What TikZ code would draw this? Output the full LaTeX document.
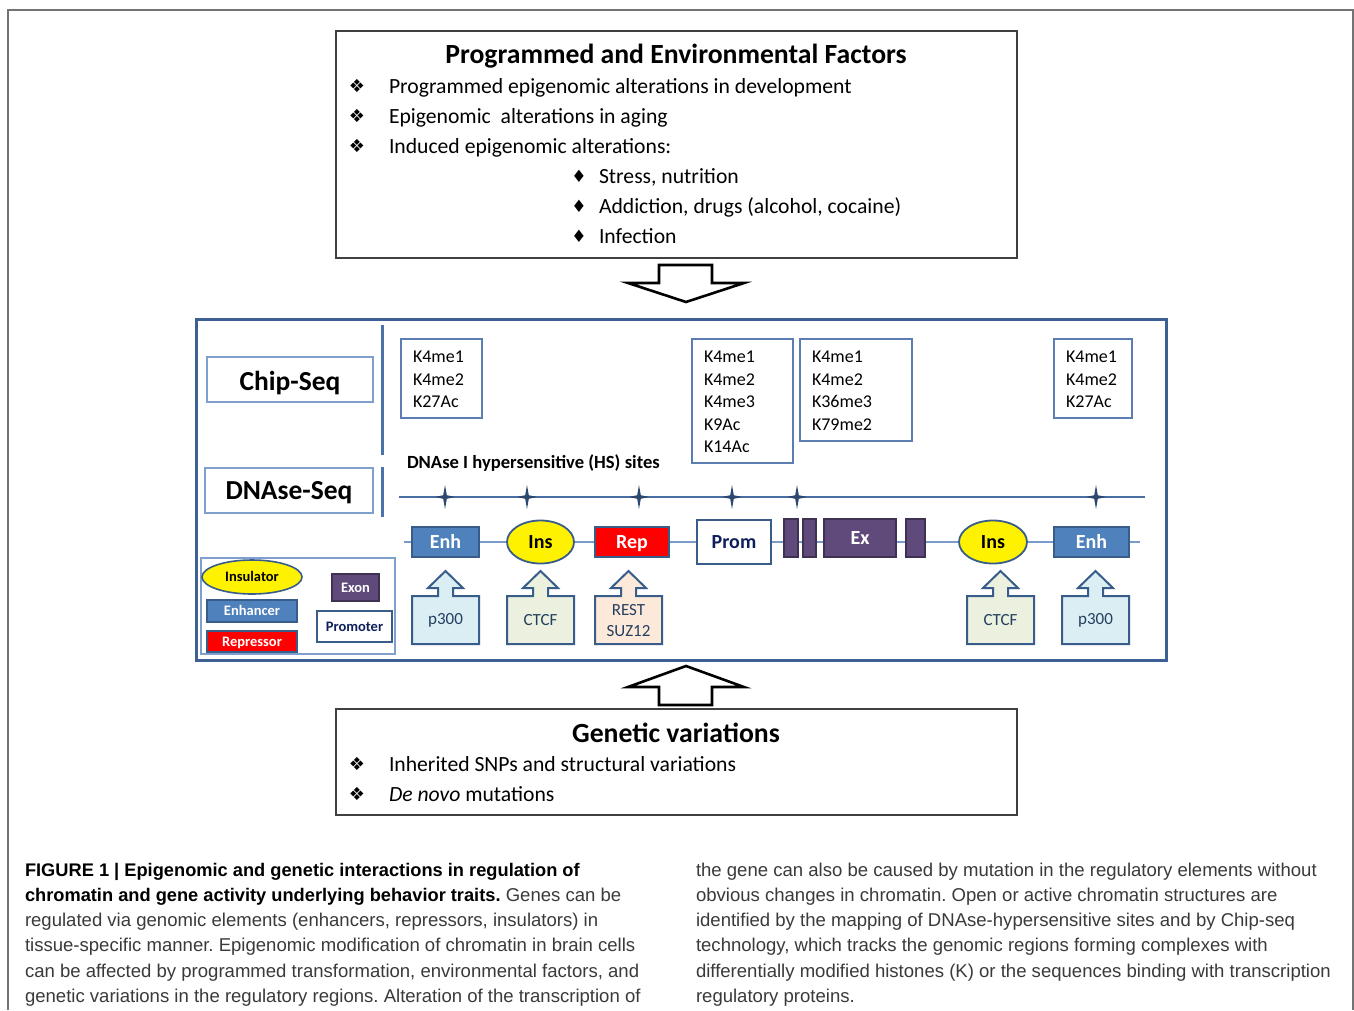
\documentclass[tikz,border=0pt]{standalone}
\usepackage{fontspec}
\setmainfont{Carlito}
\newfontfamily\capfont{Liberation Sans}
\newfontfamily\symfont{DejaVu Sans}
\usetikzlibrary{shapes.geometric}
\definecolor{frameblue}{HTML}{3D6094}
\definecolor{sepblue}{HTML}{4A72A8}
\definecolor{lightblue}{HTML}{7F9FCF}
\definecolor{kblue}{HTML}{5B7DB1}
\definecolor{enhfill}{HTML}{4F81BD}
\definecolor{darkblue}{HTML}{385D8A}
\definecolor{exfill}{HTML}{604A7B}
\definecolor{exdraw}{HTML}{3F3151}
\definecolor{promtext}{HTML}{0F1F5C}
\definecolor{pfill}{HTML}{DBEEF4}
\definecolor{cfill}{HTML}{EBF1DE}
\definecolor{rfill}{HTML}{FDE9D9}
\definecolor{ctext}{HTML}{243F60}
\definecolor{elline}{HTML}{7A9CCB}
\definecolor{hsline}{HTML}{4A6FA5}
\definecolor{starcol}{HTML}{2C4770}
\definecolor{capgray}{HTML}{3A3A3A}
\newcommand\fsz[1]{\fontsize{#1}{#1}\selectfont}
\newcommand\hsstar[1]{\fill[starcol] (#1,485) -- (#1+1.8,495.2) -- (#1+10,497) -- (#1+1.8,498.8) -- (#1,509) -- (#1-1.8,498.8) -- (#1-10,497) -- (#1-1.8,495.2) -- cycle;}
\newcommand\callout[6]{%
 \draw[darkblue, line width=2, fill=#5, line join=miter] (#3,644) -- (#3,596) -- (#2-7.5,596) -- (#2-7.5,588) -- (#2-17.5,588) -- (#2,571) -- (#2+17.5,588) -- (#2+7.5,588) -- (#2+7.5,596) -- (#4,596) -- (#4,644) -- cycle;
 \node[ctxt, align=center, font=\fontsize{17}{21}\selectfont] (#1) at ({(#3+#4)/2},620.5) {#6};}
\tikzset{
 every node/.style={inner sep=0pt, outer sep=0pt},
 ctxt/.style={text=ctext},
 factbox/.style={draw=black!75, line width=1.5},
 seqbox/.style={draw=lightblue, line width=1.5, fill=white},
 kbox/.style={draw=kblue, line width=1.4, fill=white},
 ktext/.style={anchor=north west, align=left, font=\fontsize{18}{22.5}\selectfont},
 bigarrow/.style={draw=black, line width=2.6, fill=white, line join=miter},
 eltext/.style={font=\bfseries\fsz{20}, text height=15pt, text depth=2pt},
 enhbox/.style={eltext, draw=darkblue, line width=1.8, fill=enhfill, text=white},
 insell/.style={eltext, ellipse, draw=darkblue, line width=1.8, fill=yellow},
 repbox/.style={eltext, draw=darkblue, line width=1.8, fill=red, text=white},
 exbox/.style={eltext, draw=exdraw, line width=1.2, fill=exfill, text=white},
 prombox/.style={eltext, draw=darkblue, line width=1.8, fill=white, text=promtext},
 legtext/.style={font=\bfseries\fsz{14.5}, text height=11pt, text depth=1.7pt},
 bul/.style={font=\symfont\fsz{18}},
 ltxt/.style={anchor=base west, font=\fsz{21.65}},
 captxt/.style={anchor=base west, font=\capfont\fsz{18.55}, text=capgray},
}
\newcommand\capbf{\color{black}\bfseries\fontsize{18.25}{18.25}\selectfont}
\begin{document}
\frenchspacing
\begin{tikzpicture}[x=1pt,y=-1pt]
\useasboundingbox (0,0) rectangle (1354,1010);
\fill[white] (0,0) rectangle (1354,1010);
% outer frame
\draw[black!55, line width=1.3] (8,1010) -- (8,10) -- (1353,10) -- (1353,1010);

% ---------- top box ----------
\node[factbox, minimum width=681, minimum height=227, anchor=north west] (topbox) at (336,31) {};
\node[font=\bfseries\fsz{27.7}, anchor=base] (toptitle) at (676,63) {Programmed and Environmental Factors};
\node[bul] (b1) at (357,86) {❖};
\node[bul] (b2) at (357,116) {❖};
\node[bul] (b3) at (357,146) {❖};
\node[ltxt] (t1) at (389,93) {Programmed epigenomic alterations in development};
\node[ltxt] (t2) at (389,123) {Epigenomic\ \ alterations in aging};
\node[ltxt] (t3) at (389,153) {Induced epigenomic alterations:};
\node[bul, font=\symfont\fsz{17}] (d1) at (579,176) {♦};
\node[bul, font=\symfont\fsz{17}] (d2) at (579,206) {♦};
\node[bul, font=\symfont\fsz{17}] (d3) at (579,236) {♦};
\node[ltxt] (s1) at (599,183) {Stress, nutrition};
\node[ltxt] (s2) at (599,213) {Addiction, drugs (alcohol, cocaine)};
\node[ltxt] (s3) at (599,243) {Infection};

% down arrow
\draw[bigarrow] (659,265) -- (712,265) -- (712,283) -- (744,283) -- (686,302) -- (628,283) -- (659,283) -- cycle;

% ---------- middle box ----------
\draw[frameblue, line width=3] (196,319) rectangle (1166,660);
\draw[sepblue, line width=3] (382,325) -- (382,455);
\draw[sepblue, line width=3] (382,467) -- (382,517);
\node[seqbox, minimum width=166, minimum height=45, anchor=north west] (chipbox) at (207,357) {};
\node[font=\bfseries\fsz{27.5}] (chip) at (290,383) {Chip-Seq};
\node[seqbox, minimum width=168, minimum height=45, anchor=north west] (dnasebox) at (205,468) {};
\node[font=\bfseries\fsz{27.5}] (dnase) at (289,493) {DNAse-Seq};

% K boxes
\node[kbox, minimum width=81, minimum height=79, anchor=north west] (kb1) at (401,339) {};
\node[ktext] (kt1) at (413,351) {K4me1\\K4me2\\K27Ac};
\node[kbox, minimum width=101, minimum height=124, anchor=north west] (kb2) at (692,339) {};
\node[ktext] (kt2) at (704,351) {K4me1\\K4me2\\K4me3\\K9Ac\\K14Ac};
\node[kbox, minimum width=112, minimum height=102, anchor=north west] (kb3) at (800,339) {};
\node[ktext] (kt3) at (812,351) {K4me1\\K4me2\\K36me3\\K79me2};
\node[kbox, minimum width=78, minimum height=79, anchor=north west] (kb4) at (1054,339) {};
\node[ktext] (kt4) at (1066,351) {K4me1\\K4me2\\K27Ac};

% HS sites
\node[font=\bfseries\fsz{18.6}, anchor=base west] (hslabel) at (407,468) {DNAse I hypersensitive (HS) sites};
\coordinate (hsL) at (399,497);
\coordinate (hsR) at (1145,497);
\draw[hsline, line width=1.5] (hsL) -- (hsR);
\hsstar{445}\hsstar{527}\hsstar{639}\hsstar{732}\hsstar{797}\hsstar{1096}

% element line
\coordinate (elL) at (404,542);
\coordinate (elR) at (1140,542);
\draw[elline, line width=1.5] (elL) -- (elR);
\node[enhbox, minimum width=67, minimum height=30] (enh1) at (445.5,542) {Enh};
\node[insell, minimum width=67, minimum height=43] (ins1) at (540.5,542) {Ins};
\node[repbox, minimum width=74, minimum height=30] (rep) at (632,542) {Rep};
\node[prombox, minimum width=74, minimum height=44] (prom) at (734,542) {Prom};
\node[exbox, minimum width=14, minimum height=38] (ex1) at (791,538) {};
\node[exbox, minimum width=13, minimum height=38] (ex2) at (809.5,538) {};
\node[exbox, minimum width=72, minimum height=38] (ex3) at (860,538) {Ex};
\node[exbox, minimum width=19, minimum height=38] (ex4) at (915.5,538) {};
\node[insell, minimum width=68, minimum height=43] (ins2) at (993,542) {Ins};
\node[enhbox, minimum width=75, minimum height=30] (enh2) at (1091.5,542) {Enh};

% callouts
\callout{p1}{445.5}{412}{479}{pfill}{p300}
\callout{c1}{540.5}{507}{574}{cfill}{CTCF}
\callout{r1}{628.5}{595}{662}{rfill}{REST\\SUZ12}
\callout{c2}{1000.5}{967}{1034}{cfill}{CTCF}
\callout{p2}{1095.5}{1062}{1129}{pfill}{p300}

% legend
\node[draw=lightblue, line width=1.3, minimum width=194, minimum height=96, anchor=north west] (legend) at (201,558) {};
\node[legtext, ellipse, draw=darkblue, line width=1.6, fill=yellow, minimum width=100, minimum height=34] (lins) at (252,577) {Insulator};
\node[legtext, draw=darkblue, line width=1.4, fill=enhfill, text=white, minimum width=90, minimum height=22] (lenh) at (252,611) {Enhancer};
\node[legtext, draw=darkblue, line width=1.4, fill=red, text=white, minimum width=90, minimum height=21] (lrep) at (252,641.5) {Repressor};
\node[legtext, draw=exdraw, line width=1.2, fill=exfill, text=white, minimum width=47, minimum height=27] (lex) at (355.5,587.5) {Exon};
\node[legtext, draw=darkblue, line width=1.6, fill=white, text=promtext, minimum width=75, minimum height=31] (lprom) at (354.5,626.5) {Promoter};

% up arrow
\draw[bigarrow] (686,666) -- (744,687) -- (712,687) -- (712,705) -- (659,705) -- (659,687) -- (628,687) -- cycle;

% ---------- bottom box ----------
\node[factbox, minimum width=681, minimum height=106, anchor=north west] (botbox) at (336,709) {};
\node[font=\bfseries\fsz{27.7}, anchor=base] (bottitle) at (676,742) {Genetic variations};
\node[bul] (g1) at (357,764) {❖};
\node[bul] (g2) at (357,794) {❖};
\node[ltxt] (gt1) at (389,771) {Inherited SNPs and structural variations};
\node[ltxt] (gt2) at (389,801) {\textit{De novo} mutations};

% ---------- caption ----------
\node[captxt] (L1) at (25,876) {{\capbf FIGURE 1 | Epigenomic and genetic interactions in regulation of}};
\node[captxt] (L2) at (25,901) {{\capbf chromatin and gene activity underlying behavior traits.} Genes can be};
\node[captxt] (L3) at (25,926) {regulated via genomic elements (enhancers, repressors, insulators) in};
\node[captxt] (L4) at (25,951) {tissue-specific manner. Epigenomic modification of chromatin in brain cells};
\node[captxt] (L5) at (25,977) {can be affected by programmed transformation, environmental factors, and};
\node[captxt] (L6) at (25,1002) {genetic variations in the regulatory regions. Alteration of the transcription of};
\node[captxt] (R1) at (696,876) {the gene can also be caused by mutation in the regulatory elements without};
\node[captxt] (R2) at (696,901) {obvious changes in chromatin. Open or active chromatin structures are};
\node[captxt] (R3) at (696,926) {identified by the mapping of DNAse-hypersensitive sites and by Chip-seq};
\node[captxt] (R4) at (696,951) {technology, which tracks the genomic regions forming complexes with};
\node[captxt] (R5) at (696,977) {differentially modified histones (K) or the sequences binding with transcription};
\node[captxt] (R6) at (696,1002) {regulatory proteins.};
\end{tikzpicture}
\end{document}
